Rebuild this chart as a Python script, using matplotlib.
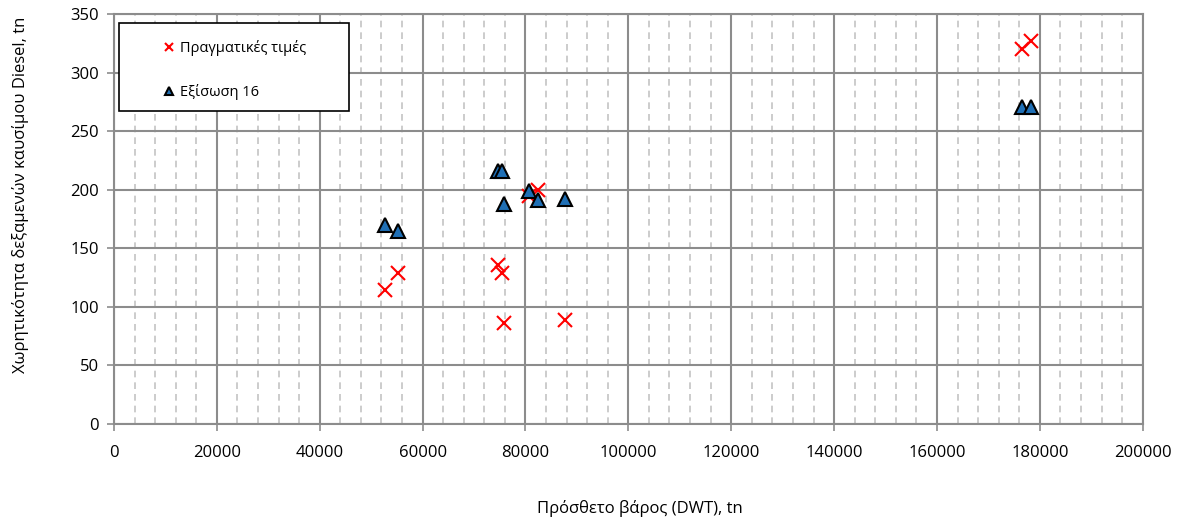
import numpy as np
import matplotlib.pyplot as plt
from matplotlib.ticker import MultipleLocator
from matplotlib.patches import Rectangle

plt.rcParams['font.family'] = ['Open Sans', 'DejaVu Sans']

# Πρόσθετο βάρος (DWT) των πλοίων, tn
dwt = [52700, 55200, 74700, 75400, 75900, 80700, 82500, 87700, 176500, 178300]
# πραγματική χωρητικότητα δεξαμενών Diesel, tn
pragmatikes = [114, 129, 136, 129, 86, 195, 200, 89, 320, 327]
# τιμές από την εξίσωση 16
exisosi16 = [170, 165, 216, 216, 188, 199, 191, 192, 271, 271]


def grafima():

    fig = plt.figure(figsize=(11.86, 5.21), dpi=100)
    ax = fig.add_axes([0.0961, 0.1862, 0.8674, 0.7869])

    ax.plot(dwt, pragmatikes, 'x', color='red', markersize=10, markeredgewidth=1.5,
            label='Πραγματικές τιμές', zorder=3)
    ax.plot(dwt, exisosi16, '^', markerfacecolor='#1F6FB5', markeredgecolor='black',
            markersize=10, markeredgewidth=1.5, label='Εξίσωση 16', zorder=4)

    ax.set_xlim(0, 200000)
    ax.set_ylim(0, 350)
    ax.xaxis.set_major_locator(MultipleLocator(20000))
    ax.xaxis.set_minor_locator(MultipleLocator(4000))
    ax.yaxis.set_major_locator(MultipleLocator(50))

    ax.grid(which='major', color='#8c8c8c', linewidth=1.5, linestyle='-')
    ax.grid(which='minor', axis='x', color='#c4c4c4', linewidth=1.2, linestyle=(0, (4, 3)))
    ax.set_axisbelow(True)

    for s in ax.spines.values():
        s.set_color('#8c8c8c')
        s.set_linewidth(1.5)

    ax.tick_params(which='major', direction='out', length=5, color='#8c8c8c', width=1.2,
                   labelsize=12)
    ax.tick_params(axis='x', pad=10)
    ax.tick_params(axis='y', pad=6)
    ax.tick_params(which='minor', length=0)

    ax.set_xlabel('Πρόσθετο βάρος (DWT), tn', fontsize=12)
    ax.set_ylabel('Χωρητικότητα δεξαμενών καυσίμου Diesel, tn', fontsize=12)
    ax.xaxis.set_label_coords(0.511, -0.185)
    ax.yaxis.set_label_coords(-0.0825, 0.56)

    # πλαίσιο υπομνήματος
    ax.add_patch(Rectangle((0.0049, 0.7634), 0.2236, 0.2146, transform=ax.transAxes,
                           facecolor='white', edgecolor='black', linewidth=1.2,
                           zorder=5))
    leg = ax.legend(loc='upper left', bbox_to_anchor=(0.0389, 0.9544), fontsize=10.5,
                    frameon=False, markerscale=0.6, handletextpad=0.2,
                    labelspacing=1.95, borderpad=0, handlelength=1.1)
    leg.set_zorder(6)

    plt.savefig('out.png', dpi=100)


grafima()
